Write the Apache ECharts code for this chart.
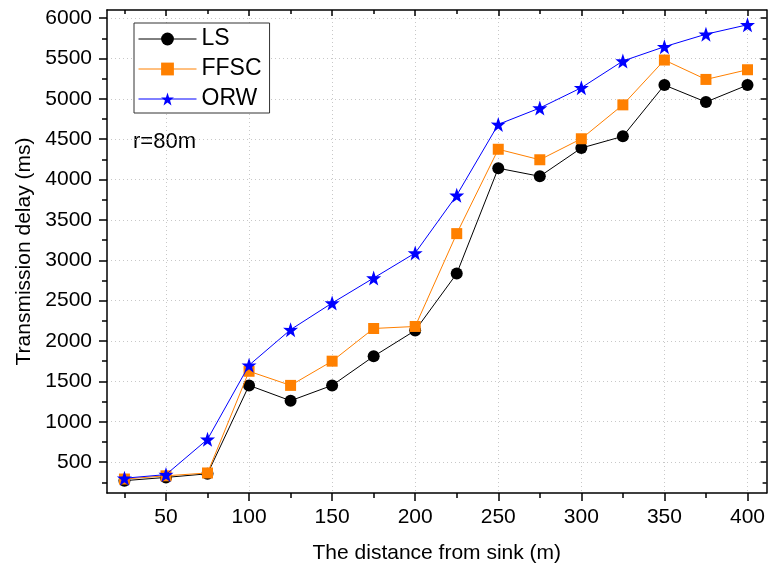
<!DOCTYPE html>
<html>
<head>
<meta charset="utf-8">
<script src="https://cdn.jsdelivr.net/npm/echarts@6/dist/echarts.min.js"></script>
<style>html,body{margin:0;padding:0;background:#fff}#c{width:768px;height:570px}</style>
</head>
<body>
<div id="c"></div>
<script>
const distances = [25, 50, 75, 100, 125, 150, 175, 200, 225, 250, 275, 300, 325, 350, 375, 400];
const lsDelay   = [270, 310, 355, 1450, 1260, 1450, 1810, 2130, 2835, 4140, 4040, 4390, 4535, 5170, 4960, 5170];
const ffscDelay = [290, 330, 365, 1625, 1450, 1750, 2155, 2180, 3330, 4375, 4245, 4505, 4925, 5480, 5240, 5360];
const orwDelay  = [300, 345, 782, 1700, 2140, 2470, 2780, 3090, 3805, 4683, 4886, 5137, 5468, 5645, 5800, 5917];
const xMajorTicks = [50, 100, 150, 200, 250, 300, 350, 400];
const xMinorTicks = [25, 75, 125, 175, 225, 275, 325, 375];
const yMajorTicks = [500, 1000, 1500, 2000, 2500, 3000, 3500, 4000, 4500, 5000, 5500, 6000];
const yMinorTicks = [250, 750, 1250, 1750, 2250, 2750, 3250, 3750, 4250, 4750, 5250, 5750];

const FONT = "'Liberation Sans', Arial, sans-serif";
const STAR = 'path://M50,0 L61.8,35.1 L97.6,34.5 L69.1,56.9 L79.4,91 L50,70.5 L20.6,91 L30.9,56.9 L2.4,34.5 L38.2,35.1 Z';
const X_MIN = 14.5, X_MAX = 411.5, Y_MIN = 117, Y_MAX = 6100;
const axisLineStyle = { color: '#000', width: 1.5 };
const gridLine = { show: true, lineStyle: { color: '#c8c8c8', type: [1, 3], width: 1 } };

function pair(arrX, arrY) { return arrX.map((x, i) => [x, arrY[i]]); }

function xAx(opts) {
  return Object.assign({
    type: 'value', min: X_MIN, max: X_MAX,
    axisLine: { show: true, onZero: false, lineStyle: axisLineStyle },
    axisLabel: { show: false }, splitLine: { show: false }
  }, opts);
}
function yAx(opts) {
  return Object.assign({
    type: 'value', min: Y_MIN, max: Y_MAX,
    axisLine: { show: true, onZero: false, lineStyle: axisLineStyle },
    axisLabel: { show: false }, splitLine: { show: false }
  }, opts);
}

const chart = echarts.init(document.getElementById('c'));
chart.setOption({
  animation: false,
  backgroundColor: '#fff',
  textStyle: { fontFamily: FONT },
  grid: { left: 107, right: 1, top: 10, bottom: 77 },
  xAxis: [
    xAx({
      position: 'bottom',
      name: 'The distance from sink (m)', nameLocation: 'middle', nameGap: 50,
      nameTextStyle: { fontFamily: FONT, fontSize: 21, color: '#000' },
      axisTick: { show: true, inside: false, length: 8, customValues: xMajorTicks, lineStyle: { color: '#000', width: 1.5 } },
      axisLabel: { show: true, margin: 14, fontSize: 21, color: '#000', fontFamily: FONT, customValues: xMajorTicks,
        formatter: v => String(v) },
      splitLine: gridLine
    }),
    xAx({ position: 'bottom', axisLine: { show: false },
      axisTick: { show: true, inside: false, length: 5, customValues: xMinorTicks, lineStyle: { color: '#000', width: 1.5 } } }),
    xAx({ position: 'top',
      axisTick: { show: true, inside: true, length: 6, customValues: xMajorTicks, lineStyle: { color: '#000', width: 1.5 } } }),
    xAx({ position: 'top', axisLine: { show: false },
      axisTick: { show: true, inside: true, length: 4, customValues: xMinorTicks, lineStyle: { color: '#000', width: 1.5 } } })
  ],
  yAxis: [
    yAx({
      position: 'left',
      name: 'Transmission delay (ms)', nameLocation: 'middle', nameGap: 67,
      nameTextStyle: { fontFamily: FONT, fontSize: 21, color: '#000' },
      axisTick: { show: true, inside: false, length: 8, customValues: yMajorTicks, lineStyle: { color: '#000', width: 1.5 } },
      axisLabel: { show: true, margin: 15, fontSize: 21, color: '#000', fontFamily: FONT, customValues: yMajorTicks,
        formatter: v => String(v) },
      splitLine: gridLine
    }),
    yAx({ position: 'left', axisLine: { show: false },
      axisTick: { show: true, inside: false, length: 5, customValues: yMinorTicks, lineStyle: { color: '#000', width: 1.5 } } }),
    yAx({ position: 'right',
      axisTick: { show: true, inside: true, length: 6, customValues: yMajorTicks, lineStyle: { color: '#000', width: 1.5 } } }),
    yAx({ position: 'right', axisLine: { show: false },
      axisTick: { show: true, inside: true, length: 4, customValues: yMinorTicks, lineStyle: { color: '#000', width: 1.5 } } })
  ],
  legend: {
    orient: 'vertical', left: 134, top: 23,
    padding: [4, 8, 2, 4], itemGap: 6, itemWidth: 58, itemHeight: 16,
    borderColor: '#333', borderWidth: 1, backgroundColor: '#fff',
    lineStyle: { width: 1 },
    textStyle: { fontFamily: FONT, fontSize: 23, color: '#000', lineHeight: 24 },
    data: ['LS', 'FFSC', 'ORW']
  },
  graphic: [{
    type: 'text', left: 133, top: 131,
    style: { text: 'r=80m', font: "22px 'Liberation Sans', Arial, sans-serif", fill: '#000' }
  }],
  series: [
    { name: 'LS', type: 'line', data: pair(distances, lsDelay), symbol: 'circle', symbolSize: 12,
      itemStyle: { color: '#000' }, lineStyle: { color: '#000', width: 1 }, z: 2 },
    { name: 'FFSC', type: 'line', data: pair(distances, ffscDelay), symbol: 'rect', symbolSize: 11,
      itemStyle: { color: '#ff8000' }, lineStyle: { color: '#ff8000', width: 1 }, z: 3 },
    { name: 'ORW', type: 'line', data: pair(distances, orwDelay), symbol: STAR, symbolSize: 15,
      itemStyle: { color: '#0000ff' }, lineStyle: { color: '#0000ff', width: 1 }, z: 4 }
  ]
});
</script>
</body>
</html>
